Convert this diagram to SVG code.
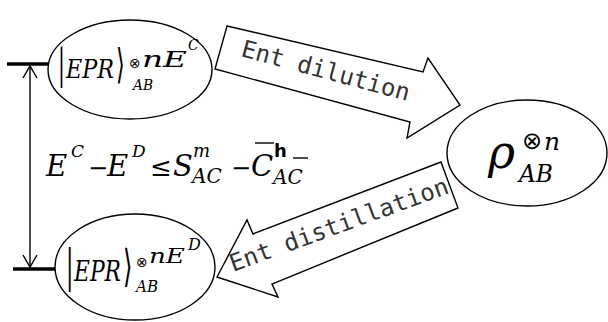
<svg xmlns="http://www.w3.org/2000/svg" width="608" height="322" viewBox="0 0 608 322">
<defs>
<style>
.ell{fill:#fff;stroke:#000;stroke-width:1.4}
.ba{fill:#fff;stroke:#000;stroke-width:1.4;stroke-linejoin:miter}
.m{font-family:DejaVu Serif,serif;font-style:italic;fill:#000}
.r{font-family:DejaVu Serif,serif;fill:#000}
.o{font-family:DejaVu Sans,sans-serif;fill:#000}
.lab{font-family:DejaVu Sans Mono,monospace;font-size:24px;fill:#333}
.bar{stroke:#000;stroke-width:3.5}
.ln{stroke:#000;stroke-width:1.4;fill:none}
</style>
<marker id="v" viewBox="0 0 16 16" refX="14" refY="8" markerWidth="16" markerHeight="16" markerUnits="userSpaceOnUse" orient="auto-start-reverse">
<path d="M2,1 L14,8 L2,15" fill="none" stroke="#000" stroke-width="1.4"/>
</marker>
</defs>
<rect width="608" height="322" fill="#fff"/>
<g id="connectors">
<line class="bar" x1="7" y1="64" x2="49" y2="64"/>
<line class="bar" x1="13" y1="269" x2="56" y2="269"/>
<line class="ln" x1="30" y1="66" x2="30" y2="267" marker-start="url(#v)" marker-end="url(#v)"/>
<g id="ent-dilution">
<polygon class="ba" points="227,26 423,72 428,58 460,105 407,138 410,122 215,69"/>
<text class="lab" x="240" y="56" transform="rotate(15 240 56)">Ent dilution</text>
</g>
<g id="ent-distillation">
<polygon class="ba" points="217,277 247,220 253,234 441,162 458,208 272,284 278,297"/>
<text class="lab" x="233" y="272" transform="rotate(-20 233 272)">Ent distillation</text>
</g>
</g>
<g id="node-top">
<ellipse class="ell" cx="130" cy="69.5" rx="82" ry="49.5"/>
<text class="r" font-size="41" transform="translate(58 78) scale(0.5 1)">|</text>
<text class="m" x="66" y="78" font-size="26" textLength="48" lengthAdjust="spacingAndGlyphs">EPR</text>
<text class="o" font-size="41" transform="translate(116 78) scale(0.55 1)">⟩</text>
<text class="o" x="129" y="68" font-size="14">⊗</text>
<text class="m" x="142" y="67" font-size="23" textLength="45" lengthAdjust="spacingAndGlyphs">nE</text>
<text class="m" x="188" y="50" font-size="14">C</text>
<text class="m" x="133" y="90" font-size="15" textLength="20" lengthAdjust="spacingAndGlyphs">AB</text>
</g>
<g id="node-bottom">
<ellipse class="ell" cx="135" cy="267" rx="80" ry="53"/>
<text class="r" font-size="44" transform="translate(66 281) scale(0.5 1)">|</text>
<text class="m" x="74" y="281" font-size="27" textLength="47" lengthAdjust="spacingAndGlyphs">EPR</text>
<text class="o" font-size="44" transform="translate(123 281) scale(0.55 1)">⟩</text>
<text class="o" x="136" y="267" font-size="14">⊗</text>
<text class="m" x="149" y="263" font-size="21" textLength="36" lengthAdjust="spacingAndGlyphs">nE</text>
<text class="m" x="188" y="250" font-size="16">D</text>
<text class="m" x="136" y="292" font-size="16" textLength="22" lengthAdjust="spacingAndGlyphs">AB</text>
</g>
<g id="node-right">
<ellipse class="ell" cx="527" cy="153" rx="80" ry="53"/>
<text class="m" x="488" y="168" font-size="46">ρ</text>
<text class="o" x="522" y="149" font-size="24">⊗</text>
<text class="m" x="544" y="150" font-size="25">n</text>
<text class="m" x="519" y="182" font-size="25" textLength="34" lengthAdjust="spacingAndGlyphs">AB</text>
</g>
<g id="formula">
<text class="m" x="46" y="176" font-size="29">E</text>
<text class="m" x="71" y="157" font-size="17">C</text>
<text class="r" x="88" y="176" font-size="24">−</text>
<text class="m" x="107" y="176" font-size="29">E</text>
<text class="m" x="132" y="157" font-size="17">D</text>
<text class="r" x="150" y="176" font-size="26">≤</text>
<text class="m" x="173" y="176" font-size="29">S</text>
<text class="m" x="193" y="157" font-size="18">m</text>
<text class="m" x="192" y="183" font-size="20">AC</text>
<text class="r" x="231" y="176" font-size="24">−</text>
<text class="m" x="251" y="176" font-size="29">C</text>
<line class="ln" x1="255" y1="143" x2="274" y2="143"/>
<text x="274" y="157" font-family="DejaVu Sans,sans-serif" font-weight="bold" font-size="18">h</text>
<text class="m" x="273" y="184" font-size="20">AC</text>
<line class="ln" x1="293" y1="158" x2="308" y2="158"/>
</g>
</svg>
